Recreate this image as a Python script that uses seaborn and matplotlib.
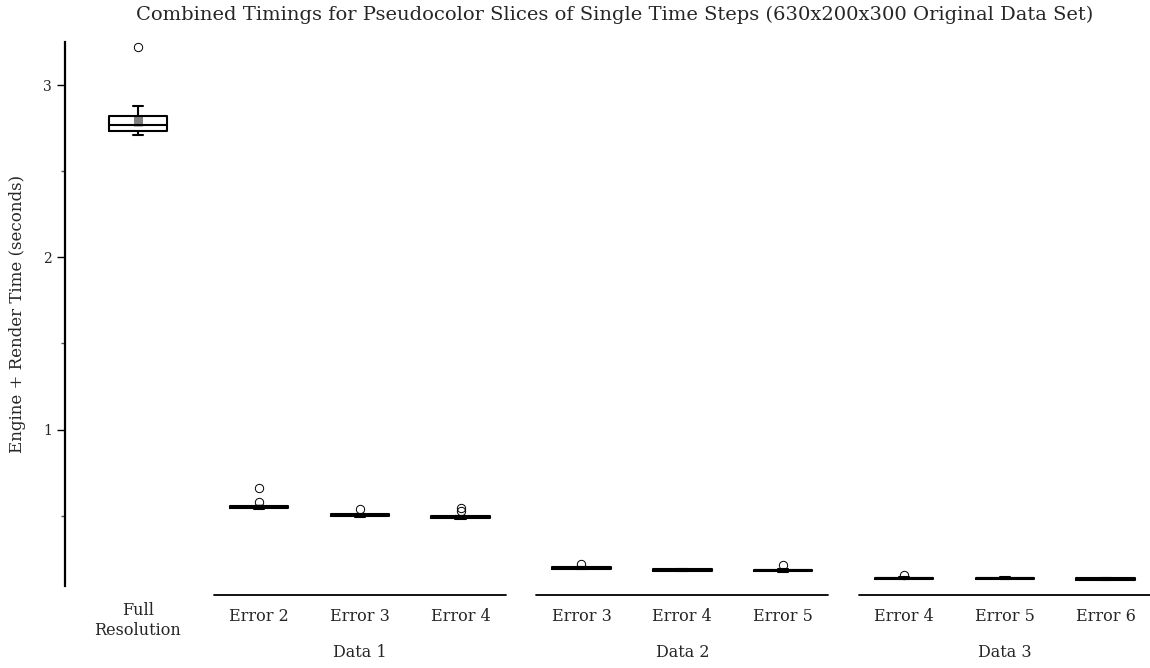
import numpy as np
import pandas as pd
import seaborn as sns
import matplotlib
matplotlib.use("Agg")
import matplotlib.pyplot as plt
from matplotlib.transforms import blended_transform_factory, ScaledTranslation

# ---------------- data ----------------
title = "Combined Timings for Pseudocolor Slices of Single Time Steps (630x200x300 Original Data Set)"
ylabel = "Engine + Render Time (seconds)"
full_label = "Full\nResolution"
groups = ["Data 1", "Data 2", "Data 3"]
group_levels = [["Error 2", "Error 3", "Error 4"],
                ["Error 3", "Error 4", "Error 5"],
                ["Error 4", "Error 5", "Error 6"]]

full_res = [2.708, 2.715, 2.72, 2.725, 2.731, 2.735, 2.74, 2.748, 2.755, 2.764,
            2.772, 2.78, 2.79, 2.805, 2.82, 2.83, 2.84, 2.855, 2.878, 3.22]

d1_e2 = [0.538, 0.541, 0.542, 0.543, 0.545, 0.547, 0.548, 0.549,
         0.551, 0.553, 0.554, 0.556, 0.578, 0.664]
d1_e3 = [0.494, 0.496, 0.497, 0.498, 0.500, 0.502, 0.503, 0.504,
         0.506, 0.508, 0.509, 0.511, 0.542]
d1_e4 = [0.482, 0.484, 0.485, 0.486, 0.488, 0.490, 0.491, 0.492,
         0.494, 0.496, 0.497, 0.499, 0.528, 0.545]
d2_e3 = [0.189, 0.191, 0.192, 0.194, 0.196, 0.198, 0.199, 0.201,
         0.202, 0.203, 0.205, 0.219]
d2_e4 = [0.177, 0.179, 0.180, 0.182, 0.184, 0.186, 0.188, 0.190,
         0.191, 0.193]
d2_e5 = [0.174, 0.176, 0.177, 0.179, 0.181, 0.183, 0.185, 0.187,
         0.188, 0.190, 0.214]
d3_e4 = [0.131, 0.132, 0.133, 0.134, 0.136, 0.137, 0.138, 0.140,
         0.141, 0.142, 0.154]
d3_e5 = [0.130, 0.132, 0.133, 0.135, 0.137, 0.139, 0.141, 0.142, 0.144]
d3_e6 = [0.126, 0.128, 0.129, 0.131, 0.133, 0.135, 0.137, 0.138, 0.140]

group_data = [[d1_e2, d1_e3, d1_e4],
              [d2_e3, d2_e4, d2_e5],
              [d3_e4, d3_e5, d3_e6]]

# ---------------- layout (positions computed from structure) ----------------
first_offset = 1.2
group_step = 3.2
rows = []
tick_pos, tick_lab = [0.0], [full_label]
for v in full_res:
    rows.append({"pos": 0.0, "value": v})
group_centers = []
for g, (levels, datas) in enumerate(zip(group_levels, group_data)):
    ps = []
    for i, (lab, vals) in enumerate(zip(levels, datas)):
        p = round(first_offset + g * group_step + i, 6)
        ps.append(p)
        tick_pos.append(p)
        tick_lab.append(lab)
        for v in vals:
            rows.append({"pos": p, "value": v})
    group_centers.append((ps[0] + ps[-1]) / 2)
df = pd.DataFrame(rows)

# ---------------- style ----------------
sns.set_style("white")
plt.rcParams["font.family"] = ["DejaVu Serif"]

W, H = 1150, 668
fig = plt.figure(figsize=(W / 100, H / 100), dpi=100)
ax_left, ax_right, ax_top, ax_bot = 65, 1150, 42, 585.7
ax = fig.add_axes([ax_left / W, (H - ax_bot) / H,
                   (ax_right - ax_left) / W, (ax_bot - ax_top) / H])

# mean +/- standard error shown as a grey block behind the box lines
sns.pointplot(data=df, x="pos", y="value", native_scale=True, ax=ax,
              errorbar=("se", 1.3), linestyle="none", marker="s",
              markersize=0, color="#808080",
              err_kws=dict(linewidth=6.5, solid_capstyle="butt", zorder=1.5))

sns.boxplot(data=df, x="pos", y="value", native_scale=True, ax=ax,
            width=0.58, fill=False, color="black", linewidth=1.5,
            whis=1.5,
            medianprops=dict(zorder=3), whiskerprops=dict(zorder=3),
            capprops=dict(zorder=3), boxprops=dict(zorder=3),
            flierprops=dict(marker="o", markerfacecolor="none",
                            markeredgecolor="black", markersize=6,
                            markeredgewidth=0.7),
            capwidths=0.1)

ax.set_xlim(-0.724, 10.04)
ax.set_ylim(0.094, 3.25)

ax.set_xticks(tick_pos)
ax.set_xticklabels(tick_lab, fontsize=11.5, va="center", linespacing=1.2)
ax.tick_params(axis="x", length=0, pad=22)
ax.set_xlabel("")
full_tick = ax.get_xticklabels()[0]
full_tick.set_transform(full_tick.get_transform()
                        + ScaledTranslation(0, -0.04, fig.dpi_scale_trans))

ax.set_yticks([1, 2, 3])
ax.set_yticklabels(["1", "2", "3"], fontsize=10)
ax.set_yticks([0.5, 1.5, 2.5], minor=True)
ax.tick_params(axis="y", which="major", direction="out", length=6, width=1,
               left=True, color="black")
ax.tick_params(axis="y", which="minor", direction="out", length=3, width=1,
               left=True, color="#555555")
ax.set_ylabel(ylabel, fontsize=12, labelpad=12)

for s in ["top", "right", "bottom"]:
    ax.spines[s].set_visible(False)
ax.spines["left"].set_linewidth(1.6)
ax.spines["left"].set_color("black")

trans = blended_transform_factory(ax.transData, ax.transAxes)
half = 1.45
for c, name in zip(group_centers, groups):
    ax.plot([c - half, c + half], [-0.017, -0.017], color="black", lw=1.3,
            transform=trans, clip_on=False)
    ax.text(c, -0.122, name, transform=trans, ha="center", va="center",
            fontsize=11.5)

ax.set_title(title, fontsize=14, x=0.507, pad=16)

fig.savefig("out.png", dpi=100)
